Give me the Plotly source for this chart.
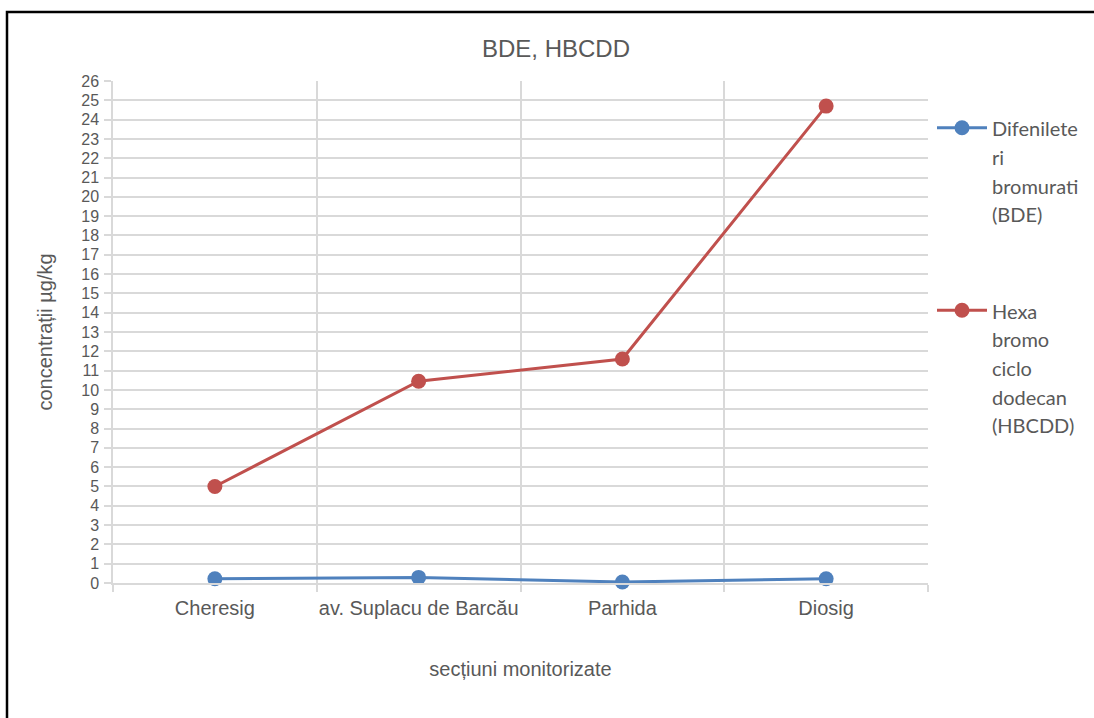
import plotly.graph_objects as go

# Monitored river sections and measured concentrations (µg/kg)
sections = ["Cheresig", "av. Suplacu de Barcău", "Parhida", "Diosig"]
bde = [0.22, 0.29, 0.05, 0.22]
hbcdd = [5.0, 10.45, 11.6, 24.7]

bde_label = ["Difenilete", "ri", "bromurati", "(BDE)"]
hbcdd_label = ["Hexa", "bromo", "ciclo", "dodecan", "(HBCDD)"]

y_ticks = list(range(0, 27))

BLUE = "#4F81BD"
RED = "#C0504D"
GRID = "#D9D9D9"
TEXT = "#595959"


def legend_text(lines):
    # small spans inside a larger legend font give a wider line spacing
    return "<br>".join(f"<span style='font-size:20px'>{ln}</span>" for ln in lines)


W, H = 1094, 718
ML, MR, MT, MB = 113, 166, 81, 135
pw, ph = W - ML - MR, H - MT - MB

fig = go.Figure()
fig.add_trace(go.Scatter(
    x=sections, y=bde, mode="lines+markers", name=legend_text(bde_label),
    line=dict(color=BLUE, width=3), marker=dict(color=BLUE, size=15),
    cliponaxis=False, legendgroup="a",
))
fig.add_trace(go.Scatter(
    x=sections, y=hbcdd, mode="lines+markers", name=legend_text(hbcdd_label),
    line=dict(color=RED, width=3), marker=dict(color=RED, size=15),
    cliponaxis=False, legendgroup="b",
))

# outer frame of the chart
fig.add_shape(
    type="rect", xref="paper", yref="paper",
    x0=(7 - ML) / pw, x1=1.5, y0=-0.6, y1=1 + (MT - 12) / ph,
    line=dict(color="black", width=2.5), layer="above",
)

fig.update_layout(
    width=W, height=H,
    margin=dict(l=ML, r=MR, t=MT, b=MB, autoexpand=False),
    paper_bgcolor="white", plot_bgcolor="white",
    font=dict(family="Liberation Sans, Arial, sans-serif", color=TEXT, size=20),
    title=dict(
        text="BDE, HBCDD", x=556 / W, xref="container", xanchor="center",
        y=1 - 49 / H, yref="container", yanchor="middle",
        font=dict(size=24, color=TEXT),
    ),
    xaxis=dict(
        type="category", range=[-0.5, 3.5], tickson="boundaries",
        showgrid=True, gridcolor=GRID, gridwidth=1.5,
        showline=True, linecolor=GRID, linewidth=1.5,
        ticks="outside", ticklen=7, tickcolor=GRID, tickwidth=1.5,
        ticklabelstandoff=6, tickangle=0, automargin=False,
        tickfont=dict(size=20, color=TEXT),
        title=dict(text="secțiuni monitorizate", font=dict(size=20, color=TEXT), standoff=44),
    ),
    yaxis=dict(
        range=[0, 26], tickmode="array", tickvals=y_ticks,
        showgrid=True, gridcolor=GRID, gridwidth=1.5,
        zeroline=True, zerolinecolor=GRID, zerolinewidth=1.5,
        showline=True, linecolor=GRID, linewidth=1.5,
        ticks="outside", ticklen=7, tickcolor=GRID, tickwidth=1.5,
        ticklabelstandoff=2, automargin=False,
        tickfont=dict(size=16, color=TEXT),
        title=dict(text="concentrații µg/kg", font=dict(size=20, color=TEXT), standoff=23),
    ),
    legend=dict(
        x=(932 - ML) / pw, xanchor="left", y=1 - (107 - MT) / ph, yanchor="top",
        font=dict(family="Lato, Noto Sans, sans-serif", size=22, color=TEXT),
        valign="top", tracegroupgap=65, itemwidth=50,
        bgcolor="rgba(0,0,0,0)",
    ),
)

fig.write_html("out.html")
